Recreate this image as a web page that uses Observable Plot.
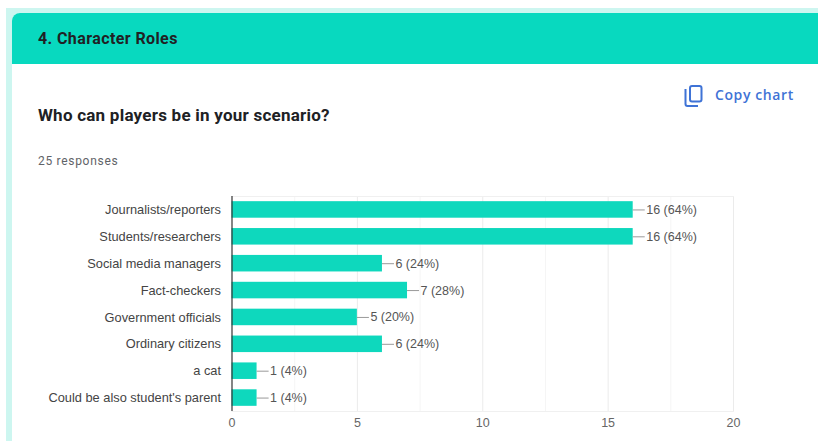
<!DOCTYPE html>
<html>
<head>
<meta charset="utf-8">
<script src="https://cdn.jsdelivr.net/npm/d3@7"></script>
<script src="https://cdn.jsdelivr.net/npm/@observablehq/plot@0.6"></script>
<style>
  html, body { margin: 0; padding: 0; background: #fff; width: 818px; height: 441px; overflow: hidden; }
  #strip { position: absolute; left: 6px; top: 8px; right: 0; bottom: 0; background: #cdf6f0; }
  #card { position: absolute; left: 12px; top: 13px; right: 0; bottom: 0; background: #fff; border-top-left-radius: 8px; overflow: hidden; }
  #head { position: absolute; left: 0; top: 0; right: 0; height: 51px; background: #08d9bf; }
  .t { position: absolute; white-space: nowrap; font-family: Roboto, sans-serif; }
  #section { left: 38px; top: 29px; font-size: 16px; font-weight: 700; line-height: 20px; color: #202124; letter-spacing: .4px; }
  #question { left: 38px; top: 105px; font-size: 17px; font-weight: 700; line-height: 20px; color: #202124; letter-spacing: .24px; }
  #count { left: 38px; top: 153px; font-size: 12px; line-height: 16px; color: #5f6368; letter-spacing: .7px; }
  #copy { left: 715px; top: 86px; font-family: "Open Sans", sans-serif; font-size: 14px; font-weight: 600; line-height: 18px; color: #3f73d6; letter-spacing: .6px; }
  #icon { position: absolute; left: 683px; top: 84px; }
  #chart { position: absolute; left: 0; top: 186px; }
</style>
</head>
<body>
<div id="strip"></div>
<div id="card"><div id="head"></div></div>
<div class="t" id="section">4. Character Roles</div>
<div class="t" id="question">Who can players be in your scenario?</div>
<div class="t" id="count">25 responses</div>
<svg id="icon" width="22" height="24" viewBox="0 0 22 24" fill="none" stroke="#3f73d6" stroke-width="2">
  <path d="M2.5 5 V20 Q2.5 22 4.5 22 H15"/>
  <rect x="7" y="2" width="11.5" height="15.5" rx="2"/>
</svg>
<div class="t" id="copy">Copy chart</div>
<div id="chart"></div>
<script>
// Answers to the multiple-choice question, with response counts and their shares.
const roles = [
  "Journalists/reporters",
  "Students/researchers",
  "Social media managers",
  "Fact-checkers",
  "Government officials",
  "Ordinary citizens",
  "a cat",
  "Could be also student's parent"
];
const counts = [16, 16, 6, 7, 5, 6, 1, 1];
const shares = [64, 64, 24, 28, 20, 24, 4, 4];
const majorTicks = [0, 5, 10, 15, 20];
const minorTicks = [2.5, 7.5, 12.5, 17.5];

const rows = roles.map((role, i) => ({role, count: counts[i], share: shares[i]}));
const font = "'Liberation Sans', Arial, sans-serif";
const labelSize = 12.5;
const leaderLength = 0.48; // in response units, the short stem joining bar and label

const plot = Plot.plot({
  width: 818,
  height: 255,
  marginLeft: 231.5,
  marginRight: 85,
  marginTop: 10,
  marginBottom: 30,
  style: {fontFamily: font, fontSize: "12.5px", color: "#555", background: "transparent"},
  x: {domain: [0, 20], axis: null},
  y: {domain: roles, axis: null, paddingInner: 0.385, paddingOuter: 0.1925, round: false},
  marks: [
    Plot.ruleX(minorTicks, {stroke: "#f5f5f5", strokeWidth: 1}),
    Plot.ruleX(majorTicks.slice(1), {stroke: "#ebebeb", strokeWidth: 1}),
    Plot.frame({anchor: "top", stroke: "#f0f0f0"}),
    Plot.frame({anchor: "bottom", stroke: "#f0f0f0"}),
    Plot.barX(rows, {x: "count", y: "role", fill: "#0ed8bd"}),
    Plot.ruleY(rows, {y: "role", x1: "count", x2: d => d.count + leaderLength, stroke: "#999", strokeWidth: 1}),
    Plot.ruleX([0], {stroke: "#333", strokeWidth: 1.2}),
    Plot.text(rows, {
      x: "count", y: "role",
      text: d => `${d.count} (${d.share}%)`,
      dx: 13, textAnchor: "start", fill: "#555", fontSize: labelSize
    }),
    Plot.axisY({
      tickSize: 0, tickPadding: 11, label: null, fill: "#444",
      fontSize: 12.8, anchor: "left"
    }),
    Plot.axisX({
      ticks: majorTicks, tickSize: 0, tickPadding: 7, label: null,
      fill: "#666", fontSize: labelSize, anchor: "bottom"
    })
  ]
});
document.getElementById("chart").append(plot);
</script>
</body>
</html>
